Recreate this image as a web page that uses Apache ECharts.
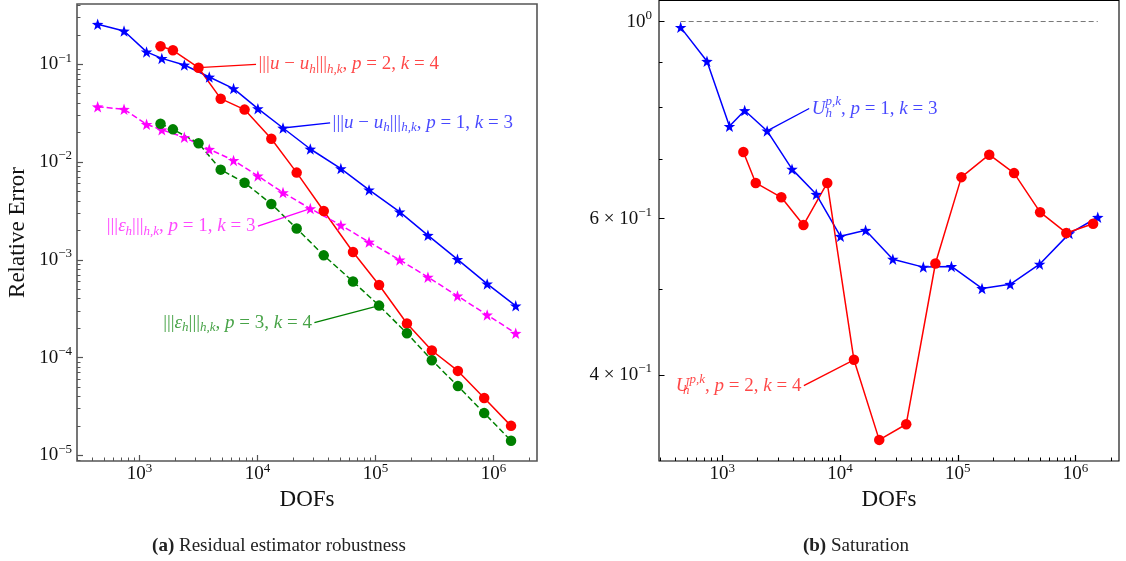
<!DOCTYPE html>
<html>
<head>
<meta charset="utf-8">
<script src="https://cdn.jsdelivr.net/npm/echarts@6/dist/echarts.min.js"></script>
<style>
html, body { margin: 0; padding: 0; background: #fff; }
#box { width: 1126px; height: 561px; }
</style>
</head>
<body>
<div id="box"></div>
<script>
// DOFs of the p=1,k=3 runs (stars) and of the p=2,k=4 / p=3,k=4 runs (circles)
const dofsStar = [443, 741, 1150, 1549, 2403, 3909, 6280, 10090, 16480, 28070, 50950, 88300, 160600, 278600, 495700, 885000, 1545000];
const dofsCircle = [1510, 1923, 3170, 4886, 7785, 13120, 21520, 36480, 64570, 107400, 185000, 300600, 500000, 835000, 1410000];

// (a) relative errors
const errP1 = [0.257, 0.219, 0.134, 0.115, 0.0984, 0.0741, 0.0564, 0.0352, 0.0223, 0.0136, 0.00857, 0.00519, 0.00309, 0.00178, 0.00101, 5.67e-4, 3.38e-4];
const estP1 = [0.0368, 0.0347, 0.0243, 0.0214, 0.0179, 0.0135, 0.0104, 0.00721, 0.00487, 0.00334, 0.00226, 0.00152, 9.98e-4, 6.64e-4, 4.27e-4, 2.73e-4, 1.77e-4];
const errP2 = [0.153, 0.139, 0.0923, 0.0445, 0.0344, 0.0173, 0.0078, 0.00316, 0.00120, 5.53e-4, 2.23e-4, 1.18e-4, 7.3e-5, 3.85e-5, 2.0e-5];
const estP3 = [0.0247, 0.0216, 0.0156, 0.00836, 0.00615, 0.00373, 0.00209, 0.00111, 5.99e-4, 3.4e-4, 1.77e-4, 9.4e-5, 5.1e-5, 2.7e-5, 1.41e-5];

// (b) saturation
const satP1 = [0.985, 0.902, 0.762, 0.794, 0.753, 0.682, 0.639, 0.573, 0.582, 0.540, 0.529, 0.530, 0.5005, 0.506, 0.533, 0.577, 0.602];
const satP2 = [0.713, 0.658, 0.634, 0.590, 0.658, 0.416, 0.338, 0.352, 0.534, 0.668, 0.708, 0.675, 0.610, 0.578, 0.592];

// ticks
const xTicks = [1e3, 1e4, 1e5, 1e6];
const yTicksA = [1e-5, 1e-4, 1e-3, 1e-2, 1e-1];
const yTicksB = [0.4, 0.6, 1];
const yMinorB = [0.5, 0.7, 0.8, 0.9];

function minorTicks(lo, hi) {
  const out = [];
  for (let e = lo; e <= hi; e++) {
    for (let m = 2; m <= 9; m++) out.push(m * Math.pow(10, e));
  }
  return out;
}
const xMinor = minorTicks(2, 6);
const yMinorA = minorTicks(-6, -1);

const serif = 'Liberation Serif';
const star = 'path://M0,-10L2.35,-3.24L9.51,-3.09L3.8,1.24L5.88,8.09L0,4L-5.88,8.09L-3.8,1.24L-9.51,-3.09L-2.35,-3.24Z';

function zip(xs, ys) {
  return xs.map((x, i) => [x, ys[i]]);
}

function pow10(v) {
  const e = Math.round(Math.log10(v));
  return '{b|10}{s|' + (e < 0 ? '−' + (-e) : e) + '}';
}
function satLabel(v) {
  if (Math.abs(v - 1) < 1e-6) return '{b|10}{s|0}';
  return '{b|' + Math.round(v * 10) + ' × 10}{s|−1}';
}

const tickRich = {
  b: { fontFamily: serif, fontSize: 19, color: '#111' },
  s: { fontFamily: serif, fontSize: 13, color: '#111', padding: [0, 0, 12, 0] }
};

function noteRich(c) {
  return {
    n: { fontFamily: serif, fontSize: 19, color: c },
    i: { fontFamily: serif, fontSize: 19, fontStyle: 'italic', color: c },
    sb: { fontFamily: serif, fontSize: 13, fontStyle: 'italic', color: c, padding: [10, 0, 0, 0] },
    sp: { fontFamily: serif, fontSize: 13, fontStyle: 'italic', color: c, padding: [0, 0, 13, 0] },
    z: { fontFamily: serif, fontSize: 13, fontStyle: 'italic', color: c, padding: [10, 0, 0, 0], width: 0.1 }
  };
}

function note(text, tip, label, side, color, textColor) {
  return {
    markLine: {
      silent: true,
      symbol: ['none', 'arrow'],
      symbolSize: [0, 9],
      label: { show: false },
      lineStyle: { type: 'solid', color: color, width: 1.3 },
      data: [[{ coord: text }, { coord: tip }]]
    },
    markPoint: {
      silent: true,
      symbol: 'circle',
      symbolSize: 1,
      itemStyle: { color: 'transparent' },
      label: { show: true, position: side, distance: 2, formatter: label, rich: noteRich(textColor) },
      data: [{ coord: text }]
    }
  };
}

function xAxes(grid, min, max, tickColor) {
  return [
    {
      type: 'log', gridIndex: grid, min: min, max: max, position: 'bottom',
      axisLine: { show: false }, splitLine: { show: false },
      axisTick: { show: true, inside: true, length: 6, customValues: xTicks, lineStyle: { color: tickColor, width: 1.2 } },
      axisLabel: { customValues: xTicks, formatter: pow10, margin: 1, rich: tickRich },
      name: 'DOFs', nameLocation: 'middle', nameGap: 25,
      nameTextStyle: { fontFamily: serif, fontSize: 23, color: '#111' }
    },
    {
      type: 'log', gridIndex: grid, min: min, max: max, position: 'bottom',
      axisLine: { show: false }, splitLine: { show: false }, axisLabel: { show: false },
      axisTick: { show: true, inside: true, length: 3.5, customValues: xMinor, lineStyle: { color: tickColor, width: 1 } }
    }
  ];
}

function series(name, xi, yi, data, color, symbol, size, dashed, extra) {
  return Object.assign({
    name: name, type: 'line', xAxisIndex: xi, yAxisIndex: yi, data: data,
    symbol: symbol, symbolSize: size, showSymbol: true,
    lineStyle: { color: color, width: 1.5, type: dashed ? [6, 3] : 'solid' },
    itemStyle: { color: color }
  }, extra || {});
}

const redText = 'rgba(255,0,0,0.72)';
const blueText = 'rgba(0,0,255,0.72)';
const magText = 'rgba(255,0,255,0.72)';
const greenText = 'rgba(0,128,0,0.72)';
const captionStyle = {
  fontFamily: serif, fontSize: 19, fontWeight: 'normal', color: '#222',
  rich: { b: { fontFamily: serif, fontSize: 19, fontWeight: 'bold', color: '#222' } }
};

const myChart = echarts.init(document.getElementById('box'));
const option = {
  animation: false,
  title: [
    { text: '{b|(a)} Residual estimator robustness', left: 274, top: 532, textAlign: 'center', textStyle: captionStyle },
    { text: '{b|(b)} Saturation', left: 851, top: 532, textAlign: 'center', textStyle: captionStyle }
  ],
  grid: [
    { left: 77, top: 4, width: 460, height: 457, show: true, borderColor: '#555', borderWidth: 1.6, backgroundColor: 'transparent' },
    { left: 659, top: 0.5, width: 460, height: 460.5, show: true, borderColor: '#000', borderWidth: 1.1, backgroundColor: 'transparent' }
  ],
  xAxis: xAxes(0, 296, 2.34e6, '#555').concat(xAxes(1, 290, 2.34e6, '#000')),
  yAxis: [
    {
      type: 'log', gridIndex: 0, min: 8.74e-6, max: 0.414, position: 'left',
      axisLine: { show: false }, splitLine: { show: false },
      axisTick: { show: true, inside: true, length: 6, customValues: yTicksA, lineStyle: { color: '#555', width: 1.2 } },
      axisLabel: { customValues: yTicksA, formatter: pow10, margin: 5, rich: tickRich },
      name: 'Relative Error', nameLocation: 'middle', nameRotate: 90, nameGap: 48,
      nameTextStyle: { fontFamily: serif, fontSize: 23, color: '#111' }
    },
    {
      type: 'log', gridIndex: 0, min: 8.74e-6, max: 0.414, position: 'left',
      axisLine: { show: false }, splitLine: { show: false }, axisLabel: { show: false },
      axisTick: { show: true, inside: true, length: 3.5, customValues: yMinorA, lineStyle: { color: '#555', width: 1 } }
    },
    {
      type: 'log', gridIndex: 1, min: 0.32, max: 1.056, position: 'left',
      axisLine: { show: false }, splitLine: { show: false },
      axisTick: { show: true, inside: true, length: 5.5, customValues: yTicksB, lineStyle: { color: '#000', width: 1 } },
      axisLabel: { customValues: yTicksB, formatter: satLabel, margin: 7, rich: tickRich }
    },
    {
      type: 'log', gridIndex: 1, min: 0.32, max: 1.056, position: 'left',
      axisLine: { show: false }, splitLine: { show: false }, axisLabel: { show: false },
      axisTick: { show: true, inside: true, length: 3.5, customValues: yMinorB, lineStyle: { color: '#000', width: 1 } }
    }
  ],
  series: [
    series('err p1', 0, 0, zip(dofsStar, errP1), '#0000ff', star, 11.5, false,
      note([41300, 0.0252], [16480, 0.0223],
        '{n||||}{i|u}{n| − }{i|u}{sb|h}{n||||}{sb|h,k}{n|, }{i|p}{n| = 1, }{i|k}{n| = 3}', 'right', '#0000ff', blueText)),
    series('err p2', 0, 0, zip(dofsCircle, errP2), '#ff0000', 'circle', 10.5, false,
      note([9730, 0.1], [3170, 0.0923],
        '{n||||}{i|u}{n| − }{i|u}{sb|h}{n||||}{sb|h,k}{n|, }{i|p}{n| = 2, }{i|k}{n| = 4}', 'right', '#ff0000', redText)),
    series('est p1', 0, 0, zip(dofsStar, estP1), '#ff00ff', star, 11.5, true,
      note([10100, 0.00221], [28070, 0.00334],
        '{n||||}{i|ε}{sb|h}{n||||}{sb|h,k}{n|, }{i|p}{n| = 1, }{i|k}{n| = 3}', 'left', '#ff00ff', magText)),
    series('est p3', 0, 0, zip(dofsCircle, estP3), '#008000', 'circle', 10.5, true,
      note([30400, 2.27e-4], [107400, 3.4e-4],
        '{n||||}{i|ε}{sb|h}{n||||}{sb|h,k}{n|, }{i|p}{n| = 3, }{i|k}{n| = 4}', 'left', '#008000', greenText)),
    {
      name: 'one', type: 'line', xAxisIndex: 2, yAxisIndex: 2, symbol: 'none',
      data: [[dofsStar[0], 1], [dofsStar[dofsStar.length - 1], 1]],
      lineStyle: { color: '#777', width: 1, type: [5, 3] }
    },
    series('sat p1', 2, 2, zip(dofsStar, satP1), '#0000ff', star, 11.5, false,
      note([5470, 0.798], [2403, 0.753],
        '{i|U}{z|h}{sp|p,k}{n|, }{i|p}{n| = 1, }{i|k}{n| = 3}', 'right', '#0000ff', blueText)),
    series('sat p2', 2, 2, zip(dofsCircle, satP2), '#ff0000', 'circle', 10.5, false,
      note([4930, 0.389], [13120, 0.416],
        '{i|U}{z|h}{sp|p,k}{n|, }{i|p}{n| = 2, }{i|k}{n| = 4}', 'left', '#ff0000', redText))
  ]
};
myChart.setOption(option);
</script>
</body>
</html>
